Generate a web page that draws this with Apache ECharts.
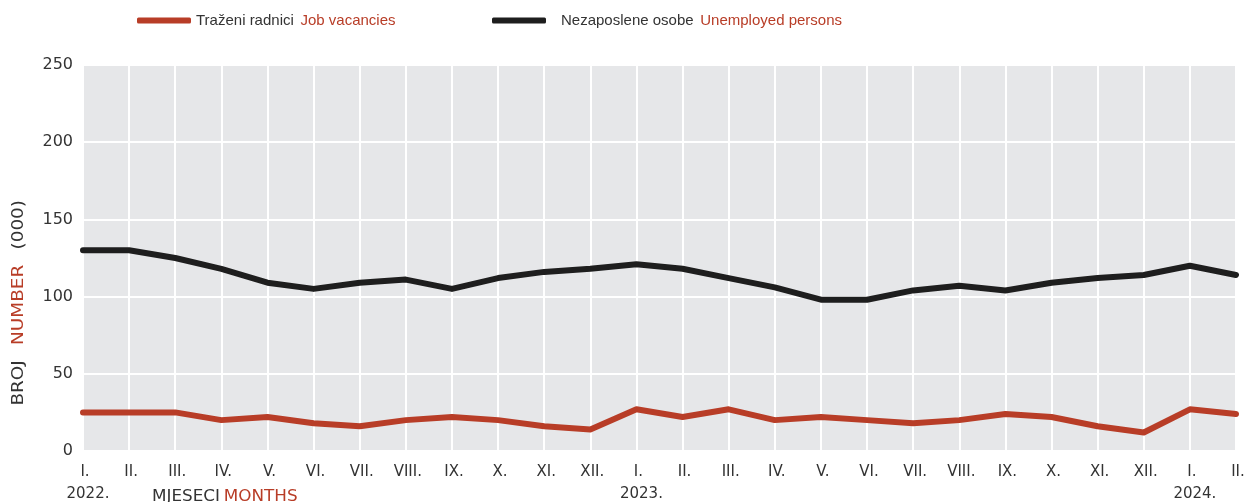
<!DOCTYPE html>
<html><head><meta charset="utf-8">
<script src="https://cdn.jsdelivr.net/npm/echarts@6/dist/echarts.min.js"></script>
<style>html,body{margin:0;padding:0;background:#fff}#c{width:1259px;height:502px}</style>
</head><body><div id="c"></div>
<script>
const months = ['I.','II.','III.','IV.','V.','VI.','VII.','VIII.','IX.','X.','XI.','XII.','I.','II.','III.','IV.','V.','VI.','VII.','VIII.','IX.','X.','XI.','XII.','I.','II.'];
const years = ['2022.','','','','','','','','','','','','2023.','','','','','','','','','','','','2024.',''];
const vacancies = [25,25,25,20,22,18,16,20,22,20,16,14,27,22,27,20,22,20,18,20,24,22,16,12,27,24];
const unemployed = [130,130,125,118,109,105,109,111,105,112,116,118,121,118,112,106,98,98,104,107,104,109,112,114,120,114];
const yTicks = [0,50,100,150,200,250];

const RED = '#B83D27', BLACK = '#1E1E1E', GREY = '#333333';
const chart = echarts.init(document.getElementById('c'));
const cats = months.map((m,i)=>i);
chart.setOption({
  animation:false,
  grid:{left:83,right:23,top:65,bottom:51,show:true,backgroundColor:'#E6E7E9',borderWidth:0},
  legend:[
    {left:132,top:8,itemWidth:54,itemHeight:6,icon:'roundRect',data:['vac'],
     formatter:()=>'{a|Traženi radnici}  {b|Job vacancies}',
     textStyle:{rich:{a:{color:GREY,fontSize:15,fontFamily:'Liberation Sans'},b:{color:RED,fontSize:15,fontFamily:'Liberation Sans'}}}},
    {left:487,top:8,itemWidth:54,itemHeight:6,icon:'roundRect',data:['unemp'],
     formatter:()=>'   {a|Nezaposlene osobe}  {b|Unemployed persons}',
     textStyle:{rich:{a:{color:GREY,fontSize:15,fontFamily:'Liberation Sans'},b:{color:RED,fontSize:15,fontFamily:'Liberation Sans'}}}}
  ],
  xAxis:{type:'category',boundaryGap:false,data:cats,
    axisLine:{show:false},axisTick:{show:false},
    splitLine:{show:true,lineStyle:{color:'#ffffff',width:2}},
    axisLabel:{interval:0,margin:10,align:'center',
      formatter:(v,i)=> years[i] ? '{m|'+months[i]+'}\n{y|'+years[i]+'}' : '{m|'+months[i]+'}',
      rich:{m:{fontSize:15,color:GREY,fontFamily:'DejaVu Sans',lineHeight:22,padding:[0,0,0,4]},
            y:{fontSize:15,color:GREY,fontFamily:'DejaVu Sans',lineHeight:22,padding:[0,0,0,10]}}}},
  yAxis:{type:'value',min:0,max:250,interval:50,
    axisLine:{show:false},axisTick:{show:false},
    splitLine:{show:true,lineStyle:{color:'#ffffff',width:2}},
    axisLabel:{margin:10,fontSize:16,color:GREY,fontFamily:'DejaVu Sans',
      formatter:v=> yTicks.includes(v)? String(v):''}},
  graphic:[
    {type:'text',left:11,top:200,rotation:Math.PI/2,scaleX:1.15,
     style:{x:0,y:0,text:'{a|BROJ}    {b|NUMBER}    {a|(000)}',
       rich:{a:{fontSize:16,fill:GREY,fontFamily:'DejaVu Sans'},b:{fontSize:16,fill:RED,fontFamily:'DejaVu Sans'}}}},
    {type:'text',left:152,top:490,scaleX:1.12,
     style:{text:'{a|MJESECI} {b|MONTHS}',
       rich:{a:{fontSize:15,fill:GREY,fontFamily:'DejaVu Sans'},b:{fontSize:15,fill:RED,fontFamily:'DejaVu Sans'}}}}
  ],
  series:[
    {name:'vac',type:'line',data:vacancies,symbol:'none',color:RED,lineStyle:{width:6,color:RED,cap:'round',join:'round'}},
    {name:'unemp',type:'line',data:unemployed,symbol:'none',color:BLACK,lineStyle:{width:6,color:BLACK,cap:'round',join:'round'}}
  ]
});
</script></body></html>
